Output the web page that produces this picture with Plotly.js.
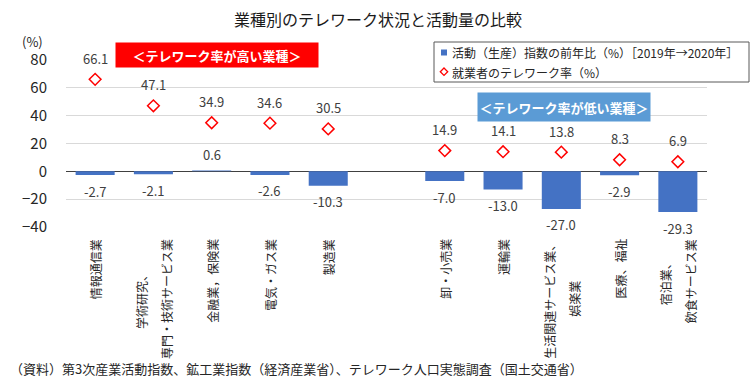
<!DOCTYPE html>
<html>
<head>
<meta charset="utf-8">
<script src="https://cdn.plot.ly/plotly-3.0.1.min.js"></script>
<style>html,body{margin:0;padding:0;background:#fff;}#chart{width:756px;height:383px;}</style>
</head>
<body>
<div id="chart"></div>
<script>
const categories = ['情報通信業', '学術研究、<br>専門・技術サービス業', '金融業，保険業', '電気・ガス業', '製造業',
                    '卸・小売業', '運輸業', '生活関連サービス業、<br>娯楽業', '医療、福祉', '宿泊業、<br>飲食サービス業'];
const activityChange = [-2.7, -2.1, 0.6, -2.6, -10.3, -7.0, -13.0, -27.0, -2.9, -29.3];
const teleworkRate = [66.1, 47.1, 34.9, 34.6, 30.5, 14.9, 14.1, 13.8, 8.3, 6.9];
const groupLabels = ['＜テレワーク率が高い業種＞', '＜テレワーク率が低い業種＞'];
const seriesNames = ['活動（生産）指数の前年比（%）［2019年→2020年］', '就業者のテレワーク率（%）'];
const yTicks = [-40, -20, 0, 20, 40, 60, 80];
const sourceNote = '（資料）第3次産業活動指数、鉱工業指数（経済産業省）、テレワーク人口実態調査（国土交通省）';

const FONT = '"Noto Sans CJK JP", "Noto Sans", sans-serif';
const L = 66, R = 49, T = 60, B = 156, W = 756, H = 383;
const PW = W - L - R, PH = H - T - B;
const px = p => (p - L) / PW;
const py = p => (H - B - p) / PH;

// gap slot between the two groups
const xPos = categories.map((c, i) => i < 5 ? i : i + 1);

const bars = {
  type: 'bar', x: xPos, y: activityChange, name: seriesNames[0],
  marker: {color: '#4472C4'}, width: 0.67, showlegend: false, hoverinfo: 'y'
};
const pts = {
  type: 'scatter', mode: 'markers', x: xPos, y: teleworkRate, name: seriesNames[1],
  marker: {symbol: 'diamond-open', color: '#FF0000', size: 9, line: {width: 1.5, color: '#FF0000'}},
  showlegend: false, cliponaxis: false
};

const ann = [];
const labFont = {family: FONT, size: 13, color: '#404040'};
activityChange.forEach((v, i) => {
  ann.push({x: xPos[i], y: v, xref: 'x', yref: 'y', text: v.toFixed(1), showarrow: false,
    yshift: v < 0 ? -16 : 16, font: labFont});
});
teleworkRate.forEach((v, i) => {
  ann.push({x: xPos[i], y: v, xref: 'x', yref: 'y', text: v.toFixed(1), showarrow: false,
    yshift: 21, font: labFont});
});
// category labels (vertical, lines centred)
const CAT_FS = 12;
categories.forEach((c, i) => {
  const lines = c.split('<br>');
  const maxLen = Math.max(...lines.map(s => s.length));
  lines.forEach((s, j) => {
    ann.push({x: xPos[i], y: 0, xref: 'x', yref: 'paper', text: s, showarrow: false,
      textangle: -90, xanchor: 'center', yanchor: 'top',
      xshift: (j - (lines.length - 1) / 2) * 25,
      yshift: -10 - (maxLen - s.length) * CAT_FS / 2,
      font: {family: FONT, size: CAT_FS, color: '#262626'}});
  });
});
// group boxes
ann.push({x: px(217), y: py(55), xref: 'paper', yref: 'paper', text: groupLabels[0], showarrow: false,
  bgcolor: '#FF0000', width: 202, height: 24, borderpad: 0, xanchor: 'center', yanchor: 'middle',
  font: {family: FONT, size: 13, color: '#FFFFFF', weight: 'bold'}});
ann.push({x: px(564), y: py(106.5), xref: 'paper', yref: 'paper', text: groupLabels[1], showarrow: false,
  bgcolor: '#5B9BD5', width: 172, height: 28, borderpad: 0, xanchor: 'center', yanchor: 'middle',
  font: {family: FONT, size: 13, color: '#FFFFFF', weight: 'bold'}});
// (%) unit
ann.push({x: px(32), y: py(41), xref: 'paper', yref: 'paper', text: '(%)', showarrow: false,
  xanchor: 'center', yanchor: 'middle', font: {family: FONT, size: 13, color: '#262626'}});
// legend texts
ann.push({x: px(450), y: py(52.5), xref: 'paper', yref: 'paper', text: seriesNames[0], showarrow: false,
  xanchor: 'left', yanchor: 'middle', font: {family: FONT, size: 12, color: '#262626'}});
ann.push({x: px(450), y: py(72), xref: 'paper', yref: 'paper', text: seriesNames[1], showarrow: false,
  xanchor: 'left', yanchor: 'middle', font: {family: FONT, size: 12, color: '#262626'}});
// source note
ann.push({x: px(8), y: py(368), xref: 'paper', yref: 'paper', text: sourceNote, showarrow: false,
  xanchor: 'left', yanchor: 'middle', font: {family: FONT, size: 13, color: '#262626'}});

const shapes = [
  {type: 'rect', xref: 'paper', yref: 'paper', x0: px(434), x1: px(749), y0: py(82), y1: py(42),
   line: {color: '#595959', width: 1}, fillcolor: '#FFFFFF', layer: 'below'},
  {type: 'rect', xref: 'paper', yref: 'paper', x0: px(441), x1: px(447), y0: py(55.5), y1: py(49.5),
   line: {width: 0}, fillcolor: '#4472C4'},
  {type: 'path', xref: 'paper', yref: 'paper',
   path: `M ${px(444)} ${py(68)} L ${px(447.7)} ${py(71.7)} L ${px(444)} ${py(75.4)} L ${px(440.3)} ${py(71.7)} Z`,
   line: {color: '#FF0000', width: 1.3}, fillcolor: 'rgba(0,0,0,0)'}
];

const layout = {
  width: W, height: H,
  margin: {l: L, r: R, t: T, b: B, pad: 0},
  paper_bgcolor: '#FFFFFF', plot_bgcolor: '#FFFFFF',
  font: {family: FONT, color: '#262626'},
  title: {text: '業種別のテレワーク状況と活動量の比較', font: {family: FONT, size: 16, color: '#1a1a1a'},
          x: 0.5, xref: 'container', xanchor: 'center', y: 1 - 20 / H, yref: 'container', yanchor: 'middle'},
  xaxis: {range: [-0.5, 10.5], showticklabels: false, showgrid: false, zeroline: false, ticks: '', showline: false, fixedrange: true},
  yaxis: {range: [-40, 80], tickvals: yTicks, showgrid: true, gridcolor: '#D9D9D9', gridwidth: 1,
          zeroline: true, zerolinecolor: '#404040', zerolinewidth: 1.5, showline: false, ticks: '',
          ticklabelstandoff: 18, tickfont: {family: FONT, size: 15, color: '#262626'}, fixedrange: true},
  showlegend: false,
  annotations: ann,
  shapes: shapes,
  bargap: 0.3
};

Plotly.newPlot('chart', [bars, pts], layout, {displayModeBar: false, staticPlot: true});
</script>
</body>
</html>
